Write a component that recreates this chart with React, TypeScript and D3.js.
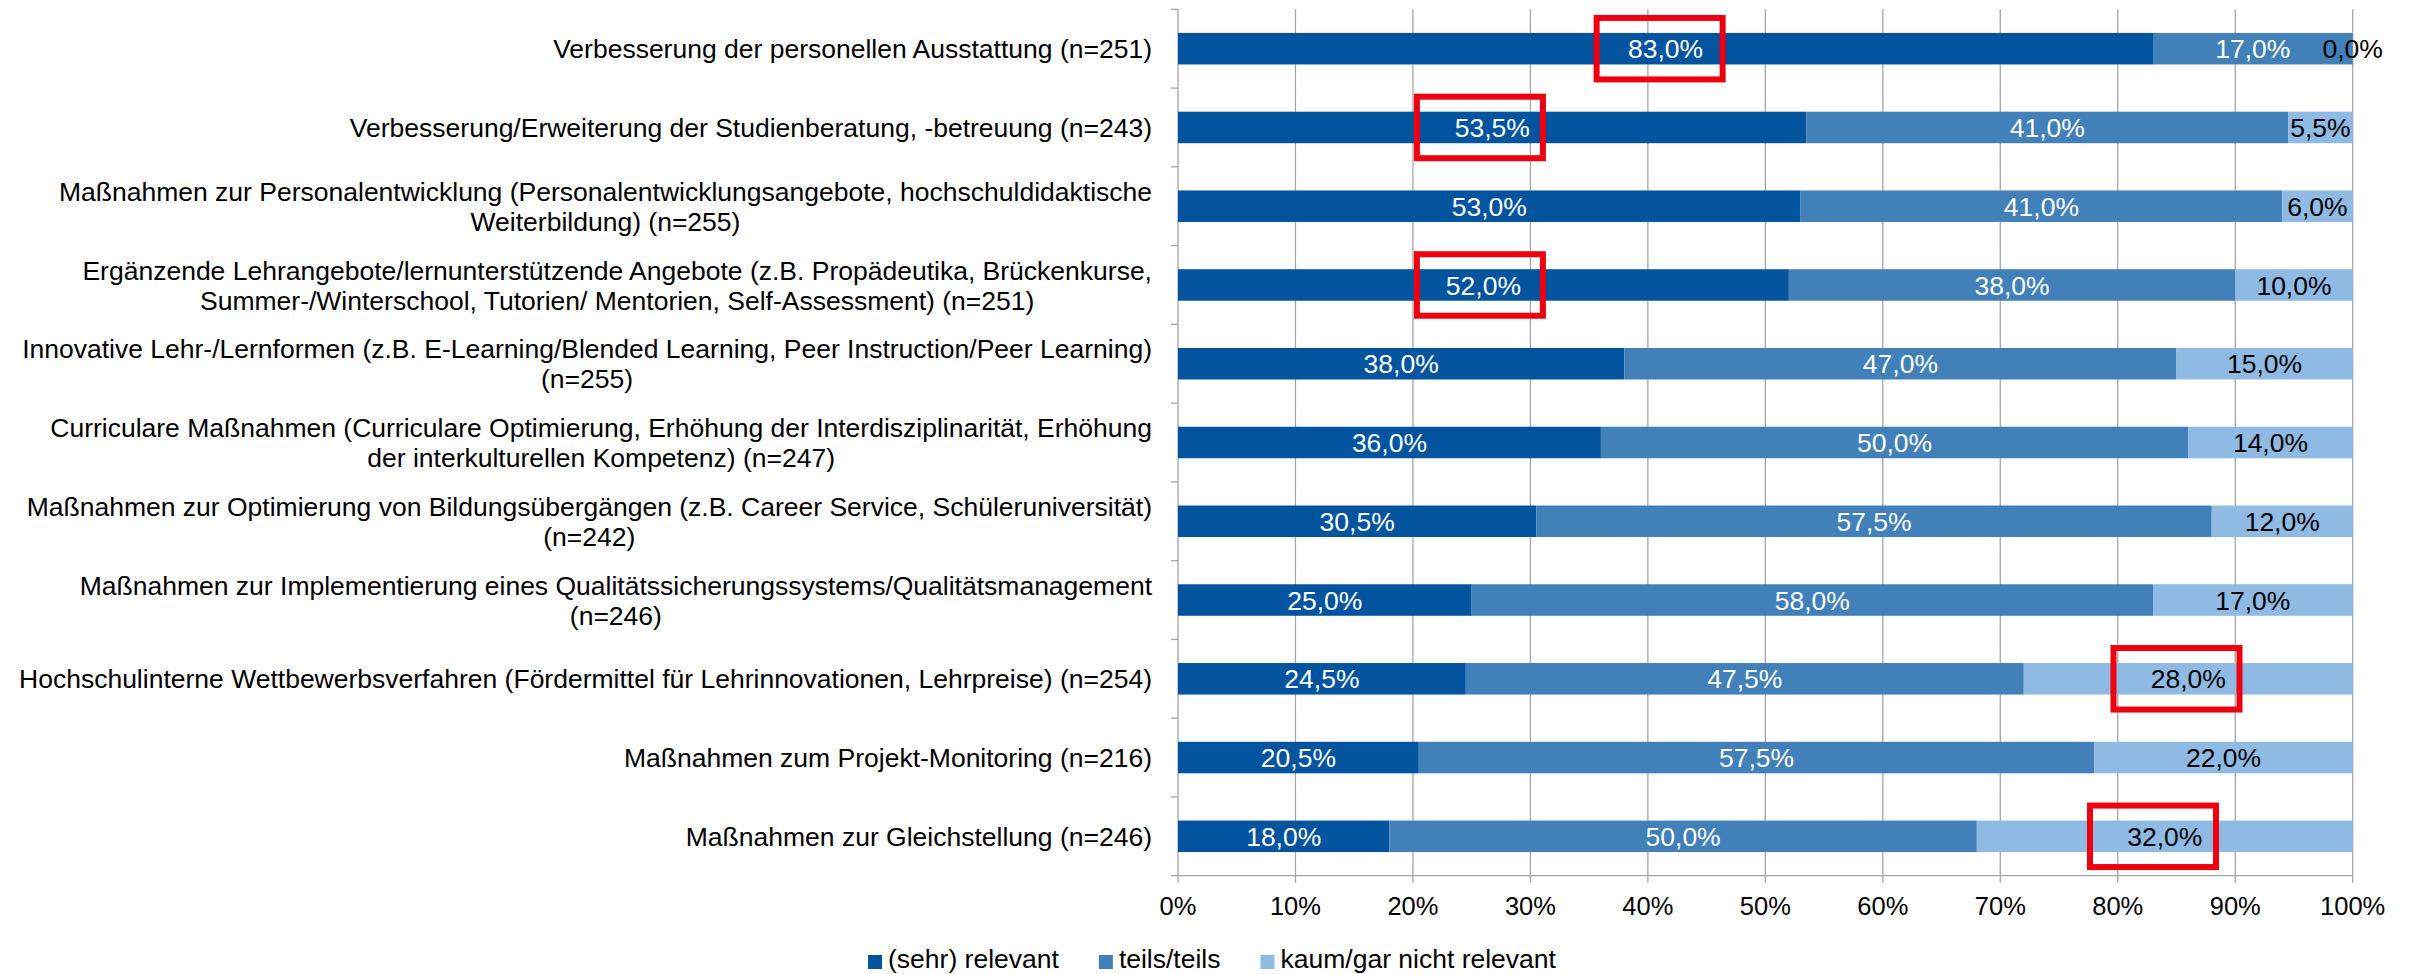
import React, { useEffect, useRef } from 'react';
import * as d3 from 'd3';

// category labels, one entry per line as wrapped in the original
const categories: string[][] = [
  ['Verbesserung der personellen Ausstattung (n=251)'],
  ['Verbesserung/Erweiterung der Studienberatung, -betreuung (n=243)'],
  ['Maßnahmen zur Personalentwicklung (Personalentwicklungsangebote, hochschuldidaktische', 'Weiterbildung) (n=255)'],
  ['Ergänzende Lehrangebote/lernunterstützende Angebote (z.B. Propädeutika, Brückenkurse,', 'Summer-/Winterschool, Tutorien/ Mentorien, Self-Assessment) (n=251)'],
  ['Innovative Lehr-/Lernformen (z.B. E-Learning/Blended Learning, Peer Instruction/Peer Learning)', '(n=255)'],
  ['Curriculare Maßnahmen (Curriculare Optimierung, Erhöhung der Interdisziplinarität, Erhöhung', 'der interkulturellen Kompetenz) (n=247)'],
  ['Maßnahmen zur Optimierung von Bildungsübergängen (z.B. Career Service, Schüleruniversität)', '(n=242)'],
  ['Maßnahmen zur Implementierung eines Qualitätssicherungssystems/Qualitätsmanagement', '(n=246)'],
  ['Hochschulinterne Wettbewerbsverfahren (Fördermittel für Lehrinnovationen, Lehrpreise) (n=254)'],
  ['Maßnahmen zum Projekt-Monitoring (n=216)'],
  ['Maßnahmen zur Gleichstellung (n=246)'],
];

const sehrRelevant = [83, 53.5, 53, 52, 38, 36, 30.5, 25, 24.5, 20.5, 18];
const teilsTeils = [17, 41, 41, 38, 47, 50, 57.5, 58, 47.5, 57.5, 50];
const kaumRelevant = [0, 5.5, 6, 10, 15, 14, 12, 17, 28, 22, 32];

const seriesNames = ['(sehr) relevant', 'teils/teils', 'kaum/gar nicht relevant'];
const xTicks = [0, 10, 20, 30, 40, 50, 60, 70, 80, 90, 100];

// red highlight boxes: category index and box centre in percent
const highlights = [
  { cat: 0, at: 41 },
  { cat: 1, at: 25.7 },
  { cat: 3, at: 25.7 },
  { cat: 8, at: 85 },
  { cat: 10, at: 83 },
];

const W = 2413;
const H = 974;
const FONT = "'Liberation Sans', Arial, sans-serif";
const colors = ['#02549f', '#4180b8', '#8fbae4'];
const labelColors = ['#ffffff', '#ffffff', '#000000'];
const gridColor = '#a6a6a6';

const App: React.FC = () => {
  const svgRef = useRef<SVGSVGElement>(null);

  useEffect(() => {
    const svg = d3.select(svgRef.current);
    svg.selectAll('*').remove();

    const plot = { left: 1178, right: 2352.7, top: 9.3, bottom: 875.7 };
    const n = categories.length;

    const x = d3.scaleLinear().domain([0, 100]).range([plot.left, plot.right]);
    const y = d3.scaleBand<number>()
      .domain(d3.range(n))
      .range([plot.top, plot.bottom])
      .paddingInner(0.6)
      .paddingOuter(0.3);
    const step = y.step();
    const mid = (i: number) => (y(i) as number) + y.bandwidth() / 2;

    const series = [sehrRelevant, teilsTeils, kaumRelevant];
    const rows = d3.range(n).map(i => {
      let acc = 0;
      return series.map((s, k) => {
        const x0 = acc;
        acc += s[i];
        return { i, k, x0, x1: acc, v: s[i] };
      });
    });

    const fmt = (v: number) => d3.format('.1f')(v).replace('.', ',') + '%';

    // gridlines
    svg.append('g')
      .selectAll('line')
      .data(xTicks.filter(t => t > 0))
      .enter()
      .append('line')
      .attr('x1', d => x(d))
      .attr('x2', d => x(d))
      .attr('y1', plot.top)
      .attr('y2', plot.bottom)
      .attr('stroke', gridColor)
      .attr('stroke-width', 1.3);

    // axes lines and ticks
    const axes = svg.append('g').attr('stroke', gridColor).attr('stroke-width', 1.3);
    axes.append('line')
      .attr('x1', plot.left).attr('x2', plot.left)
      .attr('y1', plot.top).attr('y2', plot.bottom);
    axes.append('line')
      .attr('x1', plot.left).attr('x2', plot.right)
      .attr('y1', plot.bottom).attr('y2', plot.bottom);
    axes.selectAll('.ytick')
      .data(d3.range(n + 1))
      .enter()
      .append('line')
      .attr('x1', plot.left - 7).attr('x2', plot.left)
      .attr('y1', d => plot.top + d * step)
      .attr('y2', d => plot.top + d * step);
    axes.selectAll('.xtick')
      .data(xTicks)
      .enter()
      .append('line')
      .attr('x1', d => x(d)).attr('x2', d => x(d))
      .attr('y1', plot.bottom).attr('y2', plot.bottom + 7);

    // x tick labels
    svg.append('g')
      .selectAll('text')
      .data(xTicks)
      .enter()
      .append('text')
      .attr('x', d => x(d))
      .attr('y', 915)
      .attr('text-anchor', 'middle')
      .style('font-family', FONT)
      .style('font-size', '25.5px')
      .style('fill', '#000')
      .text(d => d + '%');

    // stacked bars
    const segs = rows.flat();
    svg.append('g')
      .selectAll('rect')
      .data(segs)
      .enter()
      .append('rect')
      .attr('x', d => x(d.x0))
      .attr('y', d => y(d.i) as number)
      .attr('width', d => x(d.x1) - x(d.x0))
      .attr('height', y.bandwidth())
      .attr('fill', d => colors[d.k]);

    // value labels
    svg.append('g')
      .selectAll('text')
      .data(segs)
      .enter()
      .append('text')
      .attr('x', d => (x(d.x0) + x(d.x1)) / 2)
      .attr('y', d => mid(d.i))
      .attr('dy', '0.36em')
      .attr('text-anchor', 'middle')
      .style('font-family', FONT)
      .style('font-size', '26.5px')
      .style('fill', d => labelColors[d.k])
      .text(d => fmt(d.v));

    // category labels: block right-aligned, lines centred within block
    const labelRight = 1152;
    const lineH = 30;
    const catG = svg.append('g')
      .style('font-family', FONT)
      .style('font-size', '26.5px')
      .style('fill', '#000');
    categories.forEach((lines, i) => {
      const g = catG.append('g');
      const texts = g.selectAll('text')
        .data(lines)
        .enter()
        .append('text')
        .attr('text-anchor', 'middle')
        .attr('y', (_, j) => mid(i) + (j - (lines.length - 1) / 2) * lineH)
        .attr('dy', '0.36em')
        .text(d => d);
      let maxW = 0;
      texts.each(function () {
        maxW = Math.max(maxW, (this as SVGTextElement).getComputedTextLength());
      });
      texts.attr('x', labelRight - maxW / 2);
    });

    // legend, centred in the chart
    const legend = svg.append('g')
      .style('font-family', FONT)
      .style('font-size', '26.5px');
    const items = legend.selectAll('g')
      .data(seriesNames)
      .enter()
      .append('g');
    items.append('rect')
      .attr('y', 955)
      .attr('width', 14)
      .attr('height', 14)
      .attr('fill', (_, k) => colors[k]);
    const ltexts = items.append('text')
      .attr('x', 20)
      .attr('y', 968)
      .style('fill', '#000')
      .text(d => d);
    const widths: number[] = [];
    ltexts.each(function () {
      widths.push((this as SVGTextElement).getComputedTextLength());
    });
    const total = d3.sum(widths.map(w => 20 + w)) + 40 * (widths.length - 1);
    let lx = 1212 - total / 2;
    items.each(function (_, k) {
      d3.select(this).attr('transform', `translate(${lx},0)`);
      lx += 20 + widths[k] + 40;
    });

    // red highlight boxes
    const bw = 126;
    const bh = 61.5;
    svg.append('g')
      .selectAll('rect')
      .data(highlights)
      .enter()
      .append('rect')
      .attr('x', d => x(d.at) - bw / 2)
      .attr('y', d => mid(d.cat) - bh / 2)
      .attr('width', bw)
      .attr('height', bh)
      .attr('fill', 'none')
      .attr('stroke', '#ee0010')
      .attr('stroke-width', 6);
  }, []);

  return (
    <svg
      ref={svgRef}
      width={W}
      height={H}
      style={{ position: 'absolute', left: 0, top: 0, background: '#fff' }}
    />
  );
};

export default App;
